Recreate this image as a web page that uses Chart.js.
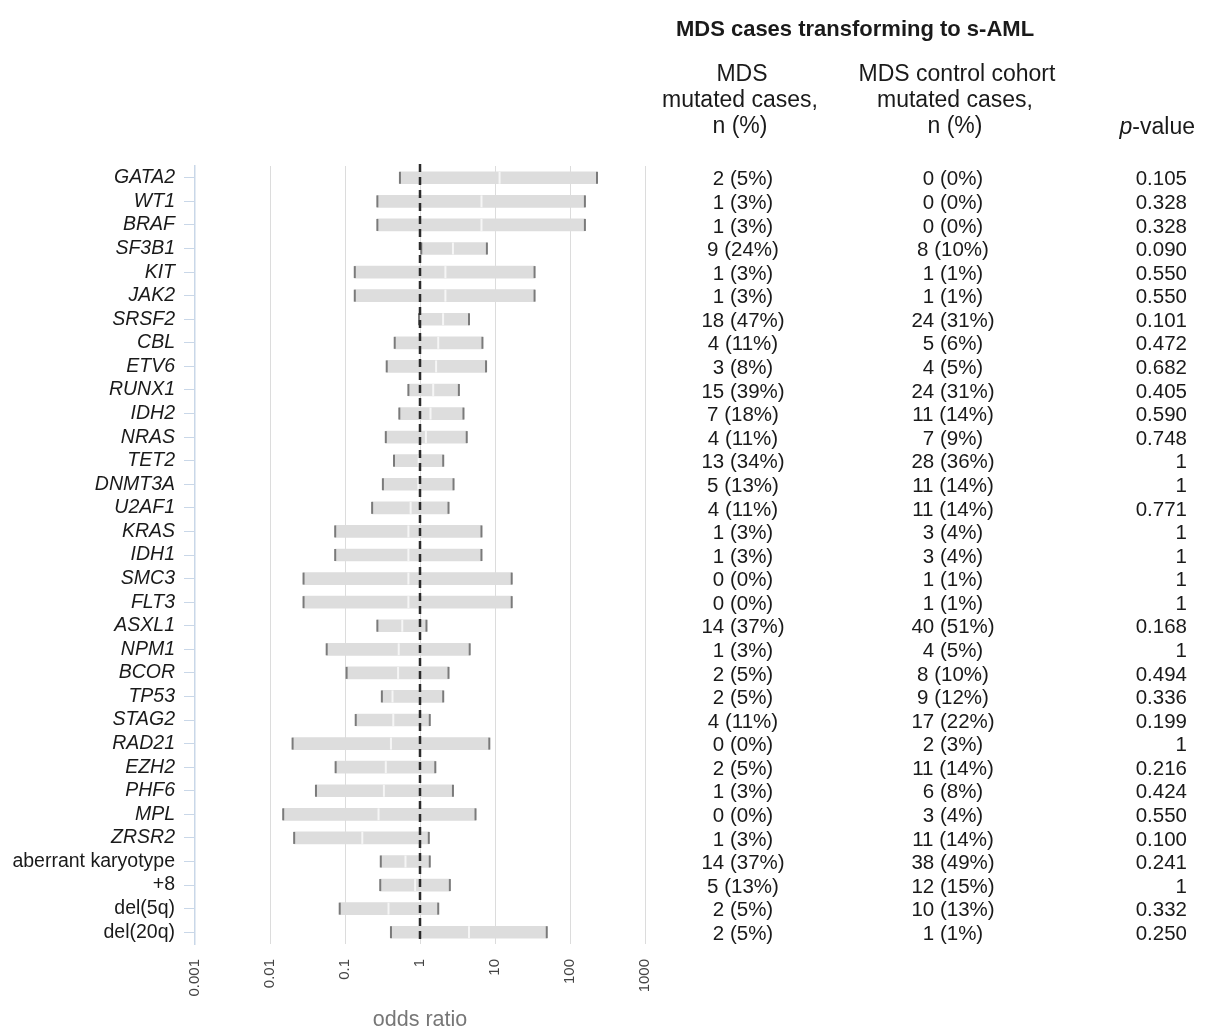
<!DOCTYPE html>
<html>
<head>
<meta charset="utf-8">
<script src="https://cdn.jsdelivr.net/npm/chart.js@4.4.1/dist/chart.umd.min.js"></script>
<style>
    html, body { margin: 0; padding: 0; background: #fff; }
    #wrap { width: 1205px; height: 1030px; position: relative; }
</style>
</head>
<body>
<div id="wrap"><canvas id="forestChart" width="1205" height="1030"></canvas></div>
<script>
const categories = [
    "GATA2", "WT1", "BRAF", "SF3B1", "KIT", "JAK2", "SRSF2", "CBL", "ETV6", "RUNX1",
    "IDH2", "NRAS", "TET2", "DNMT3A", "U2AF1", "KRAS", "IDH1", "SMC3", "FLT3", "ASXL1",
    "NPM1", "BCOR", "TP53", "STAG2", "RAD21", "EZH2", "PHF6", "MPL", "ZRSR2",
    "aberrant karyotype", "+8", "del(5q)", "del(20q)"
];
const plainLabels = ["aberrant karyotype", "+8", "del(5q)", "del(20q)"];

const lowerCI = [
    0.54, 0.27, 0.27, 1.04, 0.135, 0.135, 0.97, 0.46, 0.36, 0.70,
    0.53, 0.35, 0.45, 0.32, 0.23, 0.074, 0.074, 0.028, 0.028, 0.27,
    0.057, 0.105, 0.31, 0.139, 0.020, 0.075, 0.041, 0.015, 0.021,
    0.30, 0.295, 0.085, 0.41
];
const oddsRatio = [
    11.5, 6.6, 6.6, 2.75, 2.18, 2.18, 2.03, 1.75, 1.64, 1.5,
    1.38, 1.2, 0.96, 0.95, 0.75, 0.70, 0.70, 0.70, 0.70, 0.58,
    0.52, 0.51, 0.43, 0.44, 0.41, 0.35, 0.33, 0.28, 0.17,
    0.64, 0.86, 0.38, 4.5
];
const upperCI = [
    229, 158, 158, 7.8, 33.7, 33.7, 4.5, 6.8, 7.6, 3.3,
    3.8, 4.2, 2.04, 2.8, 2.4, 6.6, 6.6, 16.7, 16.7, 1.22,
    4.6, 2.4, 2.04, 1.35, 8.4, 1.6, 2.75, 5.5, 1.31,
    1.35, 2.5, 1.75, 49
];

const mdsMutated = [
    "2 (5%)", "1 (3%)", "1 (3%)", "9 (24%)", "1 (3%)", "1 (3%)", "18 (47%)", "4 (11%)", "3 (8%)", "15 (39%)",
    "7 (18%)", "4 (11%)", "13 (34%)", "5 (13%)", "4 (11%)", "1 (3%)", "1 (3%)", "0 (0%)", "0 (0%)", "14 (37%)",
    "1 (3%)", "2 (5%)", "2 (5%)", "4 (11%)", "0 (0%)", "2 (5%)", "1 (3%)", "0 (0%)", "1 (3%)",
    "14 (37%)", "5 (13%)", "2 (5%)", "2 (5%)"
];
const controlMutated = [
    "0 (0%)", "0 (0%)", "0 (0%)", "8 (10%)", "1 (1%)", "1 (1%)", "24 (31%)", "5 (6%)", "4 (5%)", "24 (31%)",
    "11 (14%)", "7 (9%)", "28 (36%)", "11 (14%)", "11 (14%)", "3 (4%)", "3 (4%)", "1 (1%)", "1 (1%)", "40 (51%)",
    "4 (5%)", "8 (10%)", "9 (12%)", "17 (22%)", "2 (3%)", "11 (14%)", "6 (8%)", "3 (4%)", "11 (14%)",
    "38 (49%)", "12 (15%)", "10 (13%)", "1 (1%)"
];
const pValues = [
    "0.105", "0.328", "0.328", "0.090", "0.550", "0.550", "0.101", "0.472", "0.682", "0.405",
    "0.590", "0.748", "1", "1", "0.771", "1", "1", "1", "1", "0.168",
    "1", "0.494", "0.336", "0.199", "1", "0.216", "0.424", "0.550", "0.100",
    "0.241", "1", "0.332", "0.250"
];

const xTicks = [0.001, 0.01, 0.1, 1, 10, 100, 1000];
const xTickLabels = ["0.001", "0.01", "0.1", "1", "10", "100", "1000"];

const FONT = "'Liberation Sans', Arial, sans-serif";

// 表格文字與參考線
const tablePlugin = {
    id: "tablePlugin",
    afterDatasetsDraw(chart) {
        const ctx = chart.ctx;
        const x = chart.scales.x;
        const area = chart.chartArea;
        const xOne = x.getPixelForValue(1);
        ctx.save();
        ctx.strokeStyle = "#2b2b2b";
        ctx.lineWidth = 2.5;
        ctx.setLineDash([8, 5]);
        ctx.beginPath();
        ctx.moveTo(xOne, area.top - 2);
        ctx.lineTo(xOne, area.bottom);
        ctx.stroke();
        ctx.restore();
    },
    afterDraw(chart) {
        const ctx = chart.ctx;
        const y = chart.scales.y;
        ctx.save();
        ctx.fillStyle = "#1a1a1a";
        ctx.textBaseline = "middle";

        ctx.font = "bold 22px " + FONT;
        ctx.textAlign = "center";
        ctx.fillText("MDS cases transforming to s-AML", 855, 30);

        ctx.font = "23px " + FONT;
        ctx.fillText("MDS", 742, 75);
        ctx.fillText("mutated cases,", 740, 101);
        ctx.fillText("n (%)", 740, 127);
        ctx.fillText("MDS control cohort", 957, 75);
        ctx.fillText("mutated cases,", 955, 101);
        ctx.fillText("n (%)", 955, 127);

        ctx.textAlign = "left";
        const restW = ctx.measureText("-value").width;
        ctx.font = "italic 23px " + FONT;
        const pW = ctx.measureText("p").width;
        const startX = 1195 - restW - pW;
        ctx.fillText("p", startX, 128);
        ctx.font = "23px " + FONT;
        ctx.fillText("-value", startX + pW, 128);

        ctx.font = "20.5px " + FONT;
        categories.forEach((c, i) => {
            const py = y.getPixelForValue(i) + 2;
            ctx.textAlign = "center";
            ctx.fillText(mdsMutated[i], 743, py);
            ctx.fillText(controlMutated[i], 953, py);
            ctx.textAlign = "right";
            ctx.fillText(pValues[i], 1187, py);
        });
        ctx.restore();
    }
};

const el = document.getElementById("forestChart");
new Chart(el, {
    type: "bar",
    data: {
        labels: categories,
        datasets: [
            {
                type: "bar",
                data: categories.map((c, i) => [lowerCI[i], upperCI[i]]),
                backgroundColor: "#dddddd",
                borderWidth: 0,
                barThickness: 12,
                order: 3,
            },
            {
                type: "scatter",
                data: categories.flatMap((c, i) => [
                    { x: lowerCI[i], y: c },
                    { x: upperCI[i], y: c },
                ]),
                pointStyle: "line",
                rotation: 90,
                radius: 6,
                borderColor: "#7a7a7a",
                borderWidth: 2,
                order: 2,
            },
            {
                type: "scatter",
                data: categories.map((c, i) => ({ x: oddsRatio[i], y: c })),
                pointStyle: "line",
                rotation: 90,
                radius: 6,
                borderColor: "#f6f6f6",
                borderWidth: 2,
                order: 1,
            },
        ],
    },
    options: {
        indexAxis: "y",
        responsive: false,
        animation: false,
        events: [],
        layout: { padding: { left: 0, right: 560, top: 166, bottom: 0 } },
        plugins: {
            legend: { display: false },
            tooltip: { enabled: false },
        },
        scales: {
            x: {
                type: "logarithmic",
                position: "bottom",
                min: 0.001,
                max: 1000,
                afterBuildTicks: (scale) => {
                    scale.ticks = xTicks.map((v) => ({ value: v }));
                },
                afterFit: (scale) => {
                    scale.height = 86;
                },
                border: { display: false },
                grid: {
                    color: (ctx) => (ctx.index === 0 ? "rgba(0,0,0,0)" : "#dcdcdc"),
                    lineWidth: 1,
                    drawTicks: false,
                },
                ticks: {
                    autoSkip: false,
                    minRotation: 90,
                    maxRotation: 90,
                    padding: 15,
                    color: "#444",
                    font: { family: FONT, size: 15 },
                    callback: (v, i) => xTickLabels[i],
                },
                title: {
                    display: true,
                    text: "odds ratio",
                    color: "#777",
                    font: { family: FONT, size: 21.5 },
                    padding: { top: 0, bottom: -3 },
                },
            },
            y: {
                type: "category",
                labels: categories,
                afterFit: (scale) => {
                    scale.width = 195;
                },
                border: { display: true, color: "#c9d7e8", width: 1.5 },
                grid: {
                    offset: false,
                    drawOnChartArea: false,
                    drawTicks: true,
                    tickLength: 11,
                    color: "#c9d7e8",
                },
                ticks: {
                    autoSkip: false,
                    padding: 9,
                    color: "#1a1a1a",
                    font: (ctx) => ({
                        family: FONT,
                        size: 19.5,
                        style: plainLabels.includes(categories[ctx.index]) ? "normal" : "italic",
                    }),
                },
            },
        },
    },
    plugins: [tablePlugin],
});
</script>
</body>
</html>
